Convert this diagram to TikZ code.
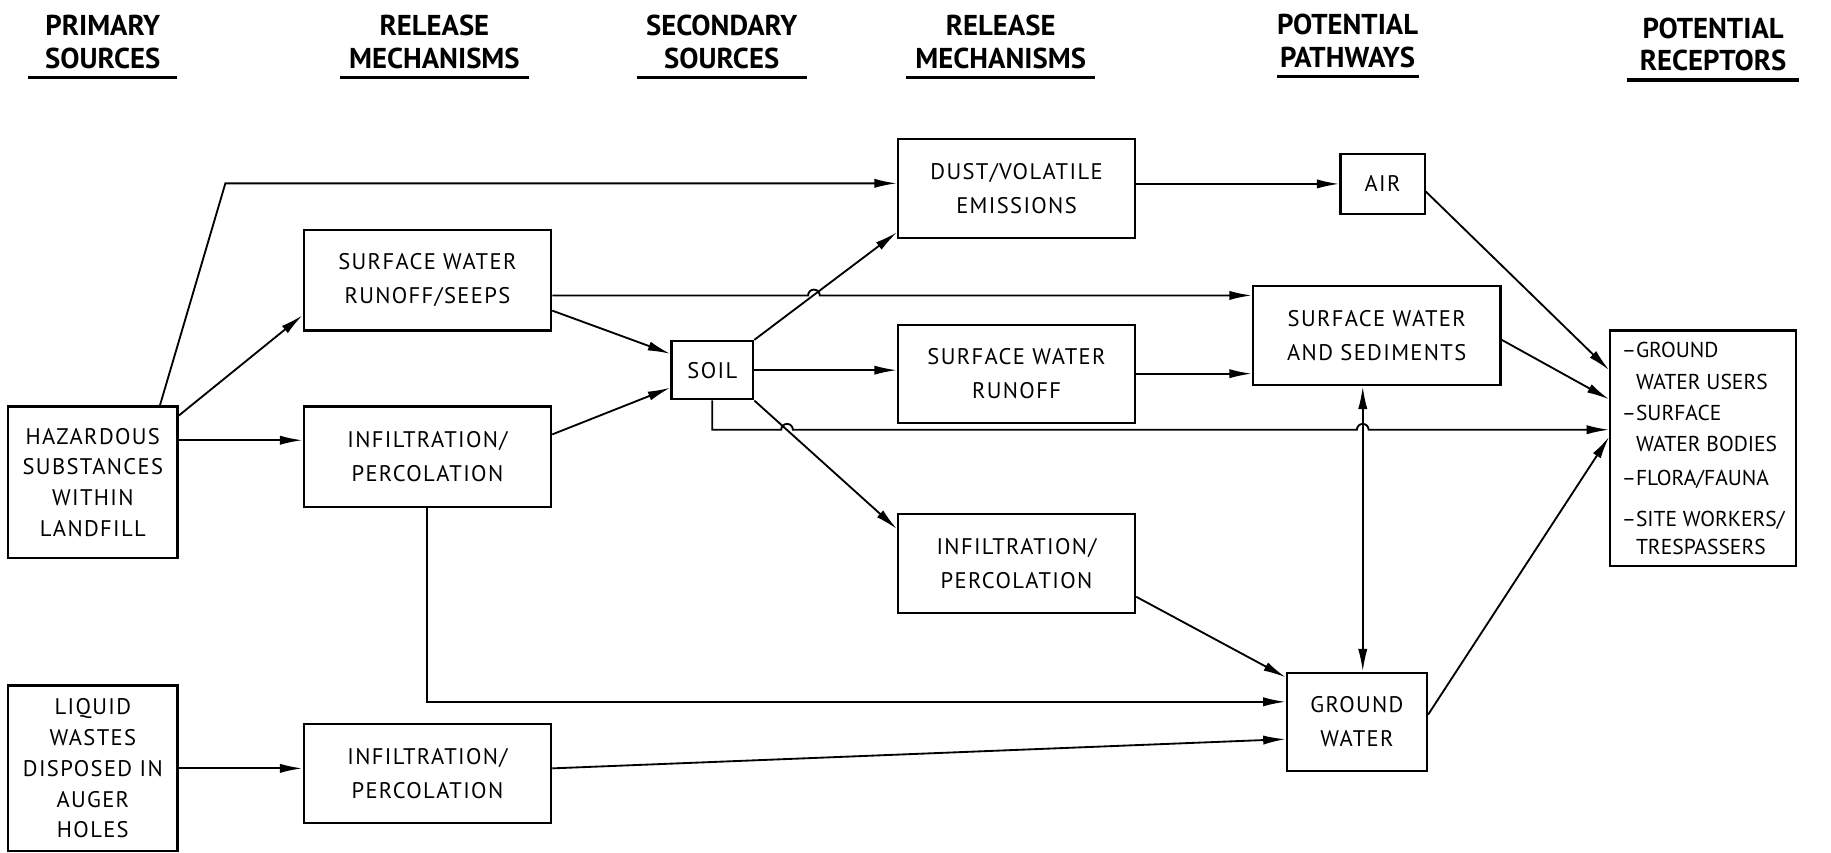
\documentclass[tikz,border=0pt]{standalone}
\usepackage{fontspec}
\setmainfont{PT Sans}
\newfontfamily\boxfont[LetterSpace=6]{PT Sans}
\usetikzlibrary{arrows.meta, positioning}

\begin{document}
\begin{tikzpicture}[x=0.02cm, y=-0.02cm,
    box/.style={draw, line width=1.1pt, align=center, inner sep=0pt, font=\boxfont\fontsize{11}{16.5}\selectfont},
    head/.style={align=center, inner xsep=0pt, inner ysep=4pt, font=\bfseries\fontsize{14}{16}\selectfont},
    uline/.style={line width=1.6pt},
    wire/.style={->, line width=0.9pt},
    >={Latex[length=11pt, width=4.5pt]}]
    \useasboundingbox (0,0) rectangle (1568,730);

    % column headings
    \node[head, minimum width=2.54cm] (h1) at (88,36) {PRIMARY\\SOURCES};
    \node[head, minimum width=3.22cm] (h2) at (372,36) {RELEASE\\MECHANISMS};
    \node[head, minimum width=2.9cm] (h3) at (618,36) {SECONDARY\\SOURCES};
    \node[head, minimum width=3.22cm] (h4) at (857,36) {RELEASE\\MECHANISMS};
    \node[head, minimum width=2.36cm] (h5) at (1154,35) {POTENTIAL\\PATHWAYS};
    \node[head, minimum width=2.94cm] (h6) at (1467,38) {POTENTIAL\\RECEPTORS};
    \foreach \h in {1,...,6}
        \draw[uline] (h\h.south west) -- (h\h.south east);

    % boxes
    \node[box, minimum width=2.9cm, minimum height=2.6cm, font=\boxfont\fontsize{11}{15}\selectfont] (haz) at (79.5,413) {HAZARDOUS\\SUBSTANCES\\WITHIN\\LANDFILL};
    \node[box, minimum width=2.9cm, minimum height=2.84cm, font=\boxfont\fontsize{11}{15}\selectfont] (liq) at (79.5,658) {LIQUID\\WASTES\\DISPOSED IN\\AUGER\\HOLES};
    \node[box, minimum width=4.24cm, minimum height=1.72cm] (swr) at (366,240) {SURFACE WATER\\RUNOFF/SEEPS};
    \node[box, minimum width=4.24cm, minimum height=1.72cm] (inf1) at (366,391) {INFILTRATION/\\PERCOLATION};
    \node[box, minimum width=4.24cm, minimum height=1.7cm] (inf3) at (366,662.5) {INFILTRATION/\\PERCOLATION};
    \node[box, minimum width=1.4cm, minimum height=1cm] (soil) at (610,317) {SOIL};
    \node[box, minimum width=4.06cm, minimum height=1.7cm] (dust) at (870.5,161.5) {DUST/VOLATILE\\EMISSIONS};
    \node[box, minimum width=4.06cm, minimum height=1.68cm] (swro) at (870.5,320) {SURFACE WATER\\RUNOFF};
    \node[box, minimum width=4.06cm, minimum height=1.7cm] (inf2) at (870.5,482.5) {INFILTRATION/\\PERCOLATION};
    \node[box, minimum width=1.44cm, minimum height=1.02cm] (air) at (1184,157.5) {AIR};
    \node[box, minimum width=4.24cm, minimum height=1.7cm] (sws) at (1179,287.5) {SURFACE WATER\\AND SEDIMENTS};
    \node[box, minimum width=2.4cm, minimum height=1.68cm] (gw) at (1162,618) {GROUND\\WATER};
    \node[box, minimum width=3.18cm, minimum height=4.04cm, align=left, font=\fontsize{10.5}{15.3}\selectfont] (rec) at (1458.5,384)
        {–GROUND\\\hphantom{–}WATER USERS\\–SURFACE\\\hphantom{–}WATER BODIES\\[1pt]–FLORA/FAUNA\\[5pt]–SITE WORKERS/\\[-2pt]\hphantom{–}TRESPASSERS};

    % bends and line hops
    \coordinate (k1) at (193,157);
    \coordinate (j1) at (697,253);
    \coordinate (j2) at (674,368);
    \coordinate (j3) at (1167,368);

    % connectors
    \draw[wire] (haz.north -| 137,0) -- (k1) -- (dust.west |- k1);
    \path[wire] (haz.east |- 0,356) edge (swr.west |- 0,270);
    \path[wire] (haz.east |- 0,377) edge (inf1.west |- 0,377);
    \path[wire] (liq.east |- 0,658) edge (inf3.west |- 0,658);
    \path[wire] (swr.east |- 0,266) edge (soil.west |- 0,303);
    \draw[wire] (swr.east |- j1) -- ([xshift=-0.1cm]j1) arc[start angle=180, end angle=0, radius=0.1cm] -- (sws.west |- j1);
    \path[wire] (inf1.east |- 0,372) edge (soil.west |- 0,332);
    \draw[wire] (inf1.south) |- (gw.west |- 0,601);
    \path[wire] (inf3.east |- 0,658) edge (gw.west |- 0,633);
    \path[wire] (soil.north east) edge (dust.west |- 0,199);
    \path[wire] (soil.east) edge (swro.west |- soil.east);
    \path[wire] (soil.south east) edge (inf2.west |- 0,453);
    \draw[wire] (soil.south) |- ([xshift=-0.1cm]j2) arc[start angle=180, end angle=0, radius=0.1cm]
        -- ([xshift=-0.1cm]j3) arc[start angle=180, end angle=0, radius=0.1cm] -- (rec.west |- j3);
    \path[wire] (dust.east |- air.west) edge (air.west);
    \path[wire] (swro.east) edge (sws.west |- swro.east);
    \path[wire] (inf2.east |- 0,511) edge (gw.west |- 0,580);
    \path[wire] (air.east |- 0,164) edge (rec.west |- 0,317);
    \path[wire] (sws.east |- 0,291) edge (rec.west |- 0,342);
    \draw[wire, <->] (sws.south -| j3) -- (gw.north -| j3);
    \path[wire] (gw.east |- 0,612) edge (rec.west |- 0,374);
\end{tikzpicture}
\end{document}
